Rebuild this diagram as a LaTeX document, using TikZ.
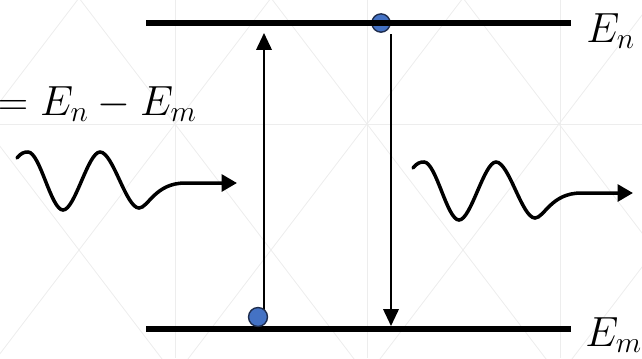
\RequirePackage{fix-cm}
\documentclass[tikz,border=0pt]{standalone}
\usepackage{amsmath}
\usetikzlibrary{arrows.meta}

\definecolor{elecblue}{HTML}{4472C4}
\definecolor{elecedge}{HTML}{1F2D4D}
\definecolor{gridgray}{HTML}{EDEDED}

\tikzset{
  level/.style={line width=4pt},
  trans/.style={line width=1.4pt, -{Triangle[length=12pt,width=11pt]}},
  wave/.style={line width=2.5pt, line cap=round, -{Triangle[length=11pt,width=12pt]}},
  electron/.style={circle, draw=elecedge, fill=elecblue, line width=1pt,
    minimum size=13pt, inner sep=0pt},
  lbl/.style={inner sep=0pt, font=\fontsize{30}{36}\selectfont},
  photon/.pic={
    % one wavy photon with an arrow at its end
    \draw[wave] (0,0) .. controls (4,-5) and (7,-6) .. (11,-6)
      .. controls (23,-6) and (34,52) .. (46,52)
      .. controls (58,52) and (71,-6) .. (83,-6)
      .. controls (96,-6) and (109,50) .. (122,50)
      .. controls (131,50) and (138,25) .. (168,25)
      -- (220,25);
  }
}

\begin{document}
\begin{tikzpicture}[x=0.025cm, y=-0.025cm]
  % picture in pixel units, y pointing down: 642 x 358
  \useasboundingbox (0,0) rectangle (642,358);
  \begin{scope}
  \clip (0,0) rectangle (642,358);
  % faint background lattice
  \foreach \k in {-3,...,4} {
    \draw[gridgray, line width=0.6pt] ({175+192*\k-192},-128) -- ({175+192*\k+192},376);
    \draw[gridgray, line width=0.6pt] ({175+192*\k+192},-128) -- ({175+192*\k-192},376);
  }
  \foreach \x in {175,367,560}
    \draw[gridgray, line width=0.6pt] (\x,0) -- (\x,358);
  \draw[gridgray, line width=0.6pt] (0,124) -- (642,124);

  % energy levels
  \coordinate (nL) at (146,23);
  \coordinate (nR) at (571,23);
  \coordinate (mL) at (146,329);
  \coordinate (mR) at (571,329);
  \node[electron] (eTop) at (381,23) {};
  \draw[level] (nL) -- (nR);
  \draw[level] (mL) -- (mR);
  \node[lbl, anchor=base west] (En) at (586,42) {$E_n$};
  \node[lbl, anchor=base west] (Em) at (585,346) {$E_m$};

  % absorption (up) and emission (down)
  \coordinate (upB) at (264,310);
  \coordinate (upT) at (264,33);
  \coordinate (dnT) at (391,34);
  \coordinate (dnB) at (391,326);
  \draw[trans] (upB) -- (upT);
  \draw[trans] (dnT) -- (dnB);
  \node[electron, minimum size=13.5pt] (eBot) at (258,317) {};

  % photons in and out
  \node[lbl, anchor=base east] (eq) at (197,115) {$=E_n-E_m$};
  \pic at (17,158) {photon};
  \pic at (413,168) {photon};
  \end{scope}
\end{tikzpicture}
\end{document}
